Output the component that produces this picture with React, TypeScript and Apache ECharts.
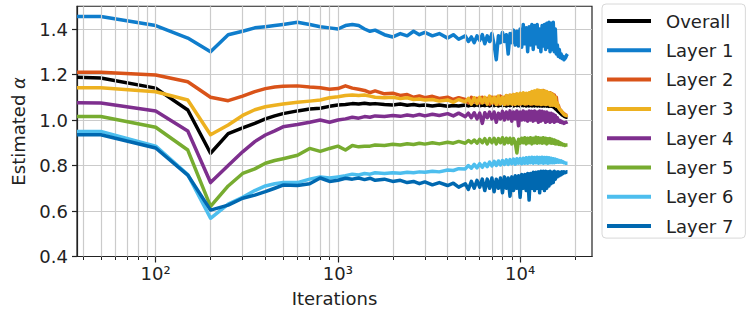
import React, { useEffect, useRef } from "react";
import * as echarts from "echarts";

const ITER = [37, 50, 100, 150, 200, 250, 300, 350, 400, 450, 500, 600, 700, 800, 900, 1000, 1100, 1200, 1300, 1400, 1500, 1600, 1800, 2000, 2200, 2400, 2600, 2800, 3000, 3300, 3600, 4000, 4300, 4600,
  5000, 5200, 5400, 5600, 5800, 6000, 6200, 6400, 6600, 6800, 7000, 7200, 7400, 7600, 7800, 8000, 8200, 8400, 8600, 8800, 9000, 9200, 9400, 9600, 9800, 10000, 10200, 10400, 10600, 10800, 11000, 11200, 11400, 11600, 11800, 12000, 12200, 12400, 12600, 12800, 13000, 13200, 13400, 13600, 13800, 14000, 14200, 14400, 14600, 14800, 15000, 15200, 15400, 15600, 15800, 16000, 16200, 16400, 16600, 16800, 17000, 17200, 17400, 17600, 17800, 18000, 18200];

const overall = [1.188, 1.185, 1.14, 1.044, 0.854, 0.94, 0.965, 0.985, 1.005, 1.018, 1.028, 1.04, 1.048, 1.052, 1.06, 1.066, 1.068, 1.072, 1.07, 1.074, 1.07, 1.072, 1.068, 1.066, 1.07, 1.065, 1.068, 1.064, 1.066, 1.062, 1.066, 1.06, 1.064, 1.062,
  1.066, 1.062, 1.066, 1.063, 1.067, 1.062, 1.066, 1.063, 1.067, 1.062, 1.066,
  1.063, 1.067, 1.062, 1.066, 1.063, 1.066, 1.062, 1.067, 1.063, 1.066,
  1.062, 1.066, 1.063, 1.066, 1.062, 1.066, 1.063, 1.066, 1.062, 1.065,
  1.062, 1.066, 1.062, 1.065, 1.062, 1.066, 1.062, 1.065, 1.062, 1.065,
  1.061, 1.065, 1.062, 1.064, 1.061, 1.064, 1.06, 1.063, 1.06, 1.06,
  1.058, 1.055, 1.05, 1.046, 1.042, 1.038, 1.034, 1.03, 1.026, 1.022,
  1.02, 1.017, 1.015, 1.013, 1.012, 1.012];

const layer1 = [1.455, 1.455, 1.415, 1.36, 1.3, 1.375, 1.39, 1.405, 1.41, 1.415, 1.42, 1.43, 1.42, 1.41, 1.405, 1.4, 1.415, 1.42, 1.415, 1.4, 1.39, 1.395, 1.375, 1.365, 1.38, 1.37, 1.39, 1.375, 1.385, 1.37, 1.38, 1.36, 1.375, 1.355,
  1.37, 1.345, 1.365, 1.34, 1.37, 1.35, 1.375, 1.335, 1.37, 1.345, 1.38,
  1.33, 1.265, 1.37, 1.34, 1.385, 1.345, 1.375, 1.29, 1.38, 1.34,
  1.395, 1.33, 1.39, 1.325, 1.4, 1.32, 1.42, 1.335, 1.405, 1.3,
  1.41, 1.33, 1.42, 1.31, 1.415, 1.335, 1.42, 1.32, 1.4, 1.3,
  1.415, 1.325, 1.42, 1.31, 1.425, 1.32, 1.43, 1.3, 1.425, 1.31,
  1.43, 1.3, 1.4, 1.29, 1.33, 1.28, 1.31, 1.275, 1.29, 1.27,
  1.28, 1.265, 1.27, 1.275, 1.285, 1.29];

const layer2 = [1.21, 1.21, 1.198, 1.168, 1.1, 1.085, 1.105, 1.125, 1.138, 1.145, 1.148, 1.15, 1.145, 1.142, 1.135, 1.138, 1.15, 1.14, 1.135, 1.13, 1.12, 1.128, 1.115, 1.118, 1.108, 1.112, 1.1, 1.106, 1.098, 1.104, 1.095, 1.1, 1.09, 1.098,
  1.09, 1.075, 1.1, 1.08, 1.095, 1.075, 1.1, 1.08, 1.095, 1.07, 1.1,
  1.075, 1.1, 1.07, 1.105, 1.075, 1.1, 1.07, 1.105, 1.075, 1.108,
  1.07, 1.11, 1.075, 1.105, 1.07, 1.11, 1.075, 1.115, 1.07, 1.11,
  1.075, 1.12, 1.07, 1.115, 1.075, 1.125, 1.07, 1.13, 1.075, 1.128,
  1.07, 1.13, 1.075, 1.125, 1.07, 1.12, 1.075, 1.12, 1.07, 1.115,
  1.07, 1.11, 1.065, 1.1, 1.06, 1.065, 1.05, 1.045, 1.04, 1.035,
  1.03, 1.028, 1.025, 1.022, 1.02, 1.02];

const layer3 = [1.142, 1.142, 1.124, 1.088, 0.935, 0.978, 1.02, 1.045, 1.058, 1.065, 1.07, 1.078, 1.083, 1.088, 1.098, 1.102, 1.108, 1.11, 1.108, 1.11, 1.105, 1.1, 1.098, 1.1, 1.094, 1.098, 1.09, 1.092, 1.088, 1.09, 1.083, 1.088, 1.078, 1.09,
  1.08, 1.095, 1.07, 1.098, 1.072, 1.1, 1.075, 1.1, 1.07, 1.105, 1.075,
  1.1, 1.068, 1.105, 1.07, 1.1, 1.068, 1.108, 1.07, 1.11, 1.07,
  1.112, 1.068, 1.115, 1.07, 1.118, 1.072, 1.12, 1.07, 1.118, 1.072,
  1.12, 1.07, 1.125, 1.072, 1.128, 1.07, 1.132, 1.07, 1.13, 1.068,
  1.13, 1.07, 1.128, 1.068, 1.125, 1.07, 1.12, 1.065, 1.118, 1.065,
  1.11, 1.065, 1.1, 1.06, 1.075, 1.055, 1.05, 1.045, 1.04, 1.035,
  1.03, 1.025, 1.022, 1.02, 1.02, 1.022];

const layer4 = [1.076, 1.075, 1.04, 0.952, 0.725, 0.8, 0.86, 0.905, 0.934, 0.952, 0.97, 0.98, 0.99, 1.0, 0.99, 1.0, 1.005, 1.012, 1.008, 1.015, 1.012, 1.018, 1.015, 1.02, 1.016, 1.022, 1.018, 1.024, 1.018, 1.025, 1.02, 1.028, 1.018, 1.03,
  1.015, 1.03, 1.01, 1.032, 1.005, 1.03, 0.985, 1.032, 1.01, 1.035, 1.005,
  1.035, 0.99, 1.03, 1.005, 1.038, 1.0, 1.035, 1.005, 1.04, 0.995,
  1.035, 1.005, 1.04, 0.975, 1.035, 1.0, 1.04, 1.0, 1.035, 0.995,
  1.04, 1.0, 1.038, 0.995, 1.04, 1.0, 1.035, 0.99, 1.04, 0.995,
  1.038, 1.0, 1.035, 0.99, 1.035, 0.995, 1.03, 0.99, 1.03, 0.995,
  1.025, 0.99, 1.02, 0.995, 1.01, 0.995, 1.0, 0.99, 0.995, 0.988,
  0.99, 0.985, 0.988, 0.99, 0.99, 0.992];

const layer5 = [1.015, 1.015, 0.968, 0.868, 0.62, 0.71, 0.765, 0.785, 0.81, 0.822, 0.83, 0.845, 0.875, 0.862, 0.875, 0.885, 0.868, 0.888, 0.882, 0.885, 0.885, 0.89, 0.888, 0.893, 0.89, 0.896, 0.892, 0.898, 0.894, 0.9, 0.895, 0.902, 0.898, 0.906,
  0.898, 0.91, 0.9, 0.912, 0.898, 0.915, 0.9, 0.918, 0.895, 0.918, 0.9,
  0.92, 0.895, 0.918, 0.9, 0.922, 0.895, 0.92, 0.9, 0.92, 0.895,
  0.918, 0.9, 0.855, 0.915, 0.898, 0.92, 0.9, 0.922, 0.895, 0.92,
  0.9, 0.922, 0.895, 0.92, 0.9, 0.924, 0.898, 0.922, 0.9, 0.92,
  0.898, 0.922, 0.9, 0.92, 0.895, 0.918, 0.9, 0.918, 0.898, 0.915,
  0.898, 0.912, 0.895, 0.908, 0.895, 0.905, 0.893, 0.9, 0.892, 0.895,
  0.89, 0.892, 0.888, 0.89, 0.89, 0.89];

const layer6 = [0.95, 0.95, 0.885, 0.76, 0.568, 0.63, 0.66, 0.69, 0.71, 0.72, 0.725, 0.725, 0.74, 0.75, 0.745, 0.75, 0.755, 0.762, 0.758, 0.765, 0.762, 0.768, 0.765, 0.768, 0.766, 0.77, 0.768, 0.772, 0.77, 0.775, 0.772, 0.78, 0.778, 0.786,
  0.785, 0.8, 0.788, 0.805, 0.79, 0.808, 0.792, 0.81, 0.795, 0.815, 0.798,
  0.818, 0.8, 0.82, 0.802, 0.822, 0.805, 0.825, 0.805, 0.826, 0.808,
  0.828, 0.806, 0.83, 0.81, 0.83, 0.808, 0.832, 0.81, 0.834, 0.81,
  0.835, 0.812, 0.836, 0.81, 0.835, 0.812, 0.836, 0.81, 0.835, 0.812,
  0.836, 0.81, 0.835, 0.812, 0.835, 0.81, 0.834, 0.812, 0.832, 0.812,
  0.83, 0.812, 0.828, 0.814, 0.825, 0.815, 0.822, 0.815, 0.82, 0.814,
  0.816, 0.812, 0.812, 0.81, 0.81, 0.81];

const layer7 = [0.935, 0.935, 0.877, 0.758, 0.604, 0.626, 0.656, 0.67, 0.685, 0.7, 0.714, 0.712, 0.72, 0.745, 0.73, 0.735, 0.744, 0.74, 0.745, 0.738, 0.744, 0.735, 0.74, 0.73, 0.735, 0.725, 0.73, 0.72, 0.728, 0.715, 0.725, 0.712, 0.722, 0.705,
  0.72, 0.695, 0.73, 0.7, 0.735, 0.705, 0.74, 0.69, 0.74, 0.7, 0.745,
  0.685, 0.74, 0.7, 0.745, 0.68, 0.75, 0.7, 0.745, 0.665, 0.75,
  0.69, 0.755, 0.7, 0.755, 0.66, 0.76, 0.7, 0.76, 0.69, 0.765,
  0.648, 0.765, 0.7, 0.77, 0.69, 0.77, 0.7, 0.772, 0.68, 0.775,
  0.7, 0.775, 0.69, 0.775, 0.7, 0.772, 0.71, 0.775, 0.72, 0.77,
  0.725, 0.775, 0.74, 0.77, 0.75, 0.772, 0.755, 0.77, 0.76, 0.772,
  0.765, 0.772, 0.768, 0.77, 0.772, 0.772];

const SERIES_NAMES = ["Overall", "Layer 1", "Layer 2", "Layer 3", "Layer 4", "Layer 5", "Layer 6", "Layer 7"];
const SERIES_VALUES = [overall, layer1, layer2, layer3, layer4, layer5, layer6, layer7];
const COLORS = ["#000000", "#0f7dcc", "#d95319", "#edb120", "#7e2f8e", "#77ac30", "#4dbeee", "#0068b0"];

const X_MAJOR = [100, 1000, 10000];
const X_MAJOR_LABELS = ["10\u00b2", "10\u00b3", "10\u2074"];
const X_MINOR = [40, 50, 60, 70, 80, 90, 200, 300, 400, 500, 600, 700, 800, 900, 2000, 3000, 4000, 5000, 6000, 7000, 8000, 9000, 20000];
const X_GRID = [40, 50, 60, 70, 80, 90, 100, 200, 300, 400, 500, 600, 700, 800, 900, 1000, 2000, 3000, 4000, 5000, 6000, 7000, 8000, 9000, 10000, 20000];
const Y_TICKS = [0.4, 0.6, 0.8, 1.0, 1.2, 1.4];

const FONT = "DejaVu Sans";
const GRID_COLOR = "#cbcbcb";
const X_MIN = 37;
const X_MAX = 24800;

export default function App() {
  const ref = useRef<HTMLDivElement>(null);
  useEffect(() => {
    if (!ref.current) return;
    const chart = echarts.init(ref.current, null, { renderer: "svg" });
    const lineSeries = SERIES_NAMES.map((name, k) => ({
      name,
      type: "line",
      xAxisIndex: 0,
      yAxisIndex: 0,
      showSymbol: false,
      symbol: "none",
      data: ITER.map((x, i) => [x, SERIES_VALUES[k][i]]),
      lineStyle: { width: 3.5, color: COLORS[k], join: "round" },
      itemStyle: { color: COLORS[k] },
      z: 3 + k,
      clip: true,
    }));
    const gridSeries = {
      name: "grid",
      type: "line",
      xAxisIndex: 0,
      yAxisIndex: 0,
      data: [],
      z: 1,
      silent: true,
      markLine: {
        silent: true,
        symbol: ["none", "none"],
        label: { show: false },
        lineStyle: { color: GRID_COLOR, width: 1.2, type: "solid" },
        emphasis: { disabled: true },
        data: X_GRID.map((v) => ({ xAxis: v })),
      },
    };
    chart.setOption({
      animation: false,
      grid: {
        left: 77,
        top: 6.25,
        width: 515,
        height: 250.25,
        containLabel: false,
        outerBoundsMode: "none",
        show: true,
        borderColor: "#222",
        borderWidth: 1.2,
        backgroundColor: "transparent",
      },
      legend: {
        data: SERIES_NAMES,
        orient: "vertical",
        left: 602,
        top: 4,
        padding: [7, 12, 2, 5],
        itemWidth: 44,
        itemHeight: 4,
        itemGap: 9.3,
        icon: "rect",
        borderColor: "#d8d8d8",
        borderWidth: 1,
        borderRadius: 4,
        backgroundColor: "#fff",
        textStyle: {
          fontFamily: FONT,
          fontSize: 18,
          color: "#222",
          lineHeight: 20,
          padding: [0, 0, 0, 10],
        },
      },
      xAxis: [
        {
          type: "log",
          logBase: 10,
          min: X_MIN,
          max: X_MAX,
          position: "bottom",
          axisLine: { show: true, lineStyle: { color: "#222", width: 1.2 } },
          axisTick: { show: true, length: 6, lineStyle: { color: "#222", width: 1.2 }, customValues: X_MAJOR },
          axisLabel: {
            show: true,
            customValues: X_MAJOR,
            formatter: (v: number) => {
              const i = X_MAJOR.findIndex((m) => Math.abs(m - v) / m < 1e-6);
              return i >= 0 ? X_MAJOR_LABELS[i] : "";
            },
            fontFamily: FONT,
            fontSize: 18,
            color: "#222",
            margin: 8,
          },
          splitLine: { show: false },
          minorTick: { show: false },
          name: "Iterations",
          nameLocation: "middle",
          nameGap: 33,
          nameTextStyle: { fontFamily: FONT, fontSize: 18, color: "#222" },
        },
        {
          type: "log",
          logBase: 10,
          min: X_MIN,
          max: X_MAX,
          position: "bottom",
          axisLine: { show: false },
          axisTick: { show: true, length: 3.5, lineStyle: { color: "#222", width: 1 }, customValues: X_MINOR },
          axisLabel: { show: false },
          splitLine: { show: false },
        },
      ],
      yAxis: {
        type: "value",
        min: 0.4,
        max: 1.5,
        interval: 0.2,
        axisLine: { show: true, lineStyle: { color: "#222", width: 1.2 } },
        axisTick: { show: true, length: 5, lineStyle: { color: "#222", width: 1.2 }, customValues: Y_TICKS },
        axisLabel: {
          customValues: Y_TICKS,
          formatter: (v: number) => v.toFixed(1),
          fontFamily: FONT,
          fontSize: 18,
          color: "#222",
          margin: 9,
        },
        splitLine: { show: true, lineStyle: { color: GRID_COLOR, width: 1.2 } },
        name: "Estimated {i|α}",
        nameLocation: "middle",
        nameGap: 50,
        nameTextStyle: {
          fontFamily: FONT,
          fontSize: 18,
          color: "#222",
          rich: { i: { fontFamily: FONT, fontSize: 18, fontStyle: "italic", color: "#222" } },
        },
      },
      series: [gridSeries, ...lineSeries],
    });
    return () => chart.dispose();
  }, []);
  return (
    <div
      ref={ref}
      style={{ position: "fixed", left: 0, top: 0, width: 749, height: 309, background: "#fff" }}
    />
  );
}
